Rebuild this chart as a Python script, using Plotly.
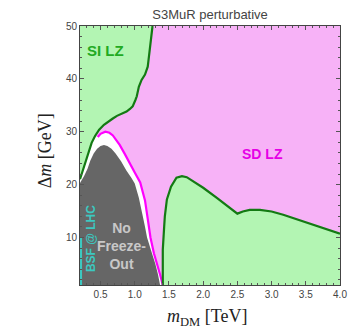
import plotly.graph_objects as go

# =========================================================
# Data (m_DM in TeV, Delta m in GeV)
# =========================================================
X_MIN, X_MAX = 0.2, 4.0
Y_MIN, Y_MAX = 1.0, 50.0

# SI LZ exclusion boundary (dark green line, region to the left is excluded)
si_m = [0.20, 0.25, 0.30, 0.37, 0.42, 0.48, 0.55, 0.61, 0.68, 0.74, 0.82, 0.88,
        0.93, 0.97, 1.01, 1.03, 1.06, 1.10, 1.15, 1.19, 1.21, 1.23, 1.25, 1.26]
si_dm = [21.0, 23.0, 25.3, 27.9, 29.2, 30.4, 31.3, 31.9, 32.5, 33.0, 33.4, 33.8,
         34.3, 34.8, 36.0, 36.7, 38.5, 39.8, 40.8, 42.3, 44.5, 46.8, 49.0, 50.0]

# magenta line (edge of the SD LZ region above the white gap)
sd_m = [0.46, 0.50, 0.57, 0.63, 0.68, 0.73, 0.78, 0.85, 0.93, 1.00, 1.08, 1.12,
        1.15, 1.19, 1.23, 1.28, 1.33, 1.37, 1.41]
sd_dm = [29.0, 29.6, 30.0, 29.8, 29.3, 28.5, 27.5, 25.9, 24.1, 22.3, 20.4, 18.5,
         17.0, 13.5, 10.0, 7.0, 5.0, 3.0, 1.0]

# no freeze-out region (gray dome)
nfo_m = [0.20, 0.20, 0.26, 0.31, 0.35, 0.40, 0.45, 0.50, 0.55, 0.60, 0.66, 0.72,
         0.80, 0.88, 0.95, 1.00, 1.06, 1.11, 1.15, 1.18, 1.24, 1.30, 1.34, 1.37]
nfo_dm = [1.0, 20.3, 21.6, 23.0, 24.5, 25.9, 26.8, 27.3, 27.5, 27.3, 26.8, 25.9,
          24.4, 22.6, 21.3, 20.2, 17.5, 14.5, 12.0, 10.0, 7.5, 5.0, 3.0, 1.0]

# lower right SI LZ island (green)
low_m = [1.41, 1.41, 1.43, 1.44, 1.47, 1.53, 1.61, 1.69, 1.76, 1.86, 2.00, 2.20,
         2.35, 2.50, 2.58, 2.68, 2.83, 3.00, 3.17, 3.40, 3.66, 4.00]
low_dm = [1.0, 7.7, 12.0, 14.0, 17.2, 19.6, 21.3, 21.6, 21.4, 20.6, 19.4, 17.5,
          16.0, 14.5, 14.9, 15.2, 15.2, 14.9, 14.3, 13.3, 12.3, 10.7]

# BSF @ LHC strip
bsf_m = [0.20, 0.23, 0.23, 0.20]
bsf_dm = [1.0, 1.0, 10.0, 10.0]

x_ticks = [0.5, 1.0, 1.5, 2.0, 2.5, 3.0, 3.5, 4.0]
y_ticks = [10, 20, 30, 40, 50]

PINK = "#f7b2f7"
GREEN_FILL = "#b3f5b3"
GREEN_LINE = "#137a13"
MAGENTA = "#ff00ff"
GRAY = "#666666"
TEAL = "#3cc8c0"
SANS = "Liberation Sans, Arial, sans-serif"
SERIF = "Liberation Serif, Times New Roman, serif"

fig = go.Figure()

# SI LZ region (top left)
fig.add_trace(go.Scatter(
    x=[X_MIN] + si_m + [X_MIN],
    y=[si_dm[0]] + si_dm + [Y_MAX],
    fill="toself", fillcolor=GREEN_FILL, mode="none",
))

# white gap under the magenta line
white_m = si_m[:5] + sd_m + [X_MIN]
white_dm = si_dm[:5] + sd_dm + [Y_MIN]
fig.add_trace(go.Scatter(
    x=white_m, y=white_dm,
    fill="toself", fillcolor="white", mode="none",
))

# no freeze-out
fig.add_trace(go.Scatter(
    x=nfo_m, y=nfo_dm,
    fill="toself", fillcolor=GRAY, mode="none",
))

# lower right green island
fig.add_trace(go.Scatter(
    x=low_m + [X_MAX], y=low_dm + [Y_MIN],
    fill="toself", fillcolor=GREEN_FILL, mode="none",
))

# BSF strip
fig.add_trace(go.Scatter(
    x=bsf_m, y=bsf_dm,
    fill="toself", fillcolor=TEAL, mode="none",
))

# boundary lines
fig.add_trace(go.Scatter(x=si_m, y=si_dm, mode="lines",
                         line=dict(color=GREEN_LINE, width=2.2)))
fig.add_trace(go.Scatter(x=sd_m, y=sd_dm, mode="lines",
                         line=dict(color=MAGENTA, width=2.2)))
fig.add_trace(go.Scatter(x=low_m, y=low_dm, mode="lines",
                         line=dict(color=GREEN_LINE, width=2.2)))

# region labels
fig.add_annotation(x=0.57, y=45.3, text="<b>SI LZ</b>", showarrow=False,
                   font=dict(family=SANS, size=15, color="#22aa22"))
fig.add_annotation(x=2.86, y=25.7, text="<b>SD LZ</b>", showarrow=False,
                   font=dict(family=SANS, size=14, color="#e600e6"))
fig.add_annotation(x=0.80, y=8.3, text="<b>No<br>Freeze-<br>Out</b>", showarrow=False,
                   font=dict(family=SANS, size=14, color="#c8c8c8"))
fig.add_annotation(x=0.37, y=9.8, text="<b>BSF @ LHC</b>", showarrow=False,
                   textangle=-90, font=dict(family=SANS, size=12, color=TEAL))

# axis titles
fig.add_annotation(xref="paper", yref="paper", x=0.49, y=-0.127, yanchor="middle",
                   text="<i>m</i><sub>DM</sub> [TeV]", showarrow=False,
                   font=dict(family=SERIF, size=18, color="#222"))
fig.add_annotation(xref="paper", yref="paper", x=-0.135, y=0.52, xanchor="center",
                   yanchor="middle", text="Δ<i>m</i> [GeV]", showarrow=False,
                   textangle=-90, font=dict(family=SERIF, size=18, color="#222"))

# the page adds an 8px body margin, so the figure is a bit smaller than the window
fig.update_layout(
    width=352, height=328,
    margin=dict(l=72, r=20, t=18, b=51),
    plot_bgcolor=PINK,
    paper_bgcolor="white",
    showlegend=False,
    title=dict(text="S3MuR perturbative", x=0.574, xanchor="center",
               yref="container", y=0.995, yanchor="top", pad=dict(t=0),
               font=dict(family=SANS, size=13, color="#444")),
)

fig.update_xaxes(
    range=[X_MIN, X_MAX], tickvals=x_ticks, ticktext=[f"{v:.1f}" for v in x_ticks],
    showgrid=False, zeroline=False, showline=True, linecolor="#444", linewidth=1,
    mirror="ticks", ticks="inside", ticklen=4, tickcolor="#555",
    minor=dict(dtick=0.1, tick0=0.0, ticks="inside", ticklen=2, tickcolor="#555"),
    tickfont=dict(family=SANS, size=10, color="#444"),
)
fig.update_yaxes(
    range=[Y_MIN, Y_MAX], tickvals=y_ticks,
    showgrid=False, zeroline=False, showline=True, linecolor="#444", linewidth=1,
    mirror="ticks", ticks="inside", ticklen=4, tickcolor="#555",
    minor=dict(dtick=2, tick0=0, ticks="inside", ticklen=2, tickcolor="#555"),
    tickfont=dict(family=SANS, size=10, color="#444"),
)

fig.write_html("out.html")
